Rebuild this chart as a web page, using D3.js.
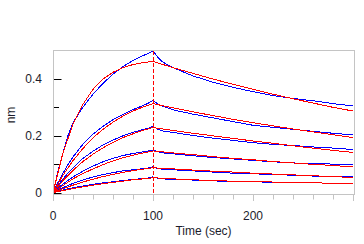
<!DOCTYPE html>
<html>
<head>
<meta charset="utf-8">
<script src="https://cdn.jsdelivr.net/npm/d3@7"></script>
<style>
  body { margin: 0; background: #fff; }
  text { font-family: "Liberation Sans", Arial, sans-serif; font-size: 12px; fill: #1c1c2c; }
</style>
</head>
<body>
<div id="chart"></div>
<script>
var width = 364, height = 244
var margins = {left: 53, top: 50, right: 10, bottom: 50}
var innerW = 301, innerH = 144

// sample times (sec)
var tBlue = [0,5,10,15,20,30,40,50,60,70,80,90,95,100,105,110,120,140,160,180,200,220,240,260,280,300]
var tFit = [0,10,20,30,40,50,60,70,80,90,100,120,140,160,180,200,220,240,260,280,300]

// measured responses (nm), one array per concentration
var blue1 = [0,0.075,0.14,0.20,0.245,0.300,0.345,0.383,0.415,0.442,0.463,0.480,0.488,0.497,0.474,0.457,0.438,0.409,0.387,0.369,0.354,0.340,0.330,0.322,0.312,0.304]
var blue2 = [0,0.035,0.068,0.098,0.125,0.170,0.205,0.232,0.256,0.274,0.291,0.305,0.313,0.324,0.310,0.303,0.290,0.275,0.262,0.249,0.236,0.229,0.222,0.215,0.208,0.202]
var blue3 = [0,0.025,0.048,0.068,0.087,0.120,0.145,0.167,0.184,0.199,0.211,0.221,0.225,0.232,0.222,0.216,0.211,0.200,0.191,0.183,0.175,0.169,0.165,0.160,0.156,0.151]
var blue4 = [0,0.015,0.030,0.043,0.055,0.075,0.093,0.108,0.120,0.130,0.137,0.143,0.146,0.149,0.143,0.139,0.136,0.129,0.123,0.118,0.113,0.108,0.104,0.101,0.100,0.100]
var blue5 = [0,0.009,0.017,0.025,0.032,0.044,0.055,0.063,0.070,0.076,0.080,0.084,0.086,0.091,0.084,0.082,0.080,0.076,0.072,0.068,0.066,0.063,0.061,0.058,0.056,0.055]
var blue6 = [0,0.005,0.009,0.013,0.017,0.023,0.029,0.034,0.038,0.042,0.046,0.049,0.051,0.055,0.050,0.048,0.046,0.044,0.041,0.039,0.038,0.036,0.036,0.034,0.033,0.033]

// fitted curves (nm)
var red1 = [0,0.140,0.239,0.310,0.362,0.398,0.422,0.438,0.449,0.456,0.460,0.438,0.418,0.398,0.380,0.362,0.345,0.329,0.314,0.299,0.286]
var red2 = [0,0.061,0.112,0.155,0.192,0.222,0.247,0.268,0.286,0.300,0.312,0.297,0.283,0.270,0.257,0.245,0.234,0.223,0.213,0.203,0.193]
var red3 = [0,0.042,0.078,0.109,0.135,0.157,0.176,0.193,0.206,0.218,0.228,0.218,0.208,0.199,0.190,0.181,0.173,0.164,0.156,0.148,0.141]
var red4 = [0,0.025,0.048,0.067,0.083,0.098,0.111,0.122,0.131,0.139,0.146,0.139,0.133,0.126,0.120,0.115,0.109,0.104,0.099,0.095,0.090]
var red5 = [0,0.014,0.026,0.037,0.047,0.056,0.064,0.071,0.077,0.082,0.087,0.083,0.079,0.075,0.072,0.068,0.065,0.062,0.059,0.056,0.053]
var red6 = [0,0.007,0.014,0.020,0.026,0.031,0.036,0.040,0.045,0.048,0.052,0.048,0.045,0.042,0.040,0.038,0.037,0.035,0.034,0.033,0.032]

var blueSeries = [blue1, blue2, blue3, blue4, blue5, blue6]
var redSeries = [red1, red2, red3, red4, red5, red6]

var xTicks = [0, 100, 200]
var yTicks = [0, 0.2, 0.4]
var switchTime = 100

var svg = d3.select("#chart").append("svg")
    .attr("width", width)
    .attr("height", height)

var plot = svg.append("g")
    .attr("transform", "translate(" + margins.left + "," + margins.top + ")")

var xScale = d3.scaleLinear().domain([0, 301]).range([0, innerW])
var yScale = d3.scaleLinear().domain([-0.005, 0.5]).range([innerH, 0])

// frame
plot.append("rect")
    .attr("x", 0.5).attr("y", 0.5)
    .attr("width", innerW).attr("height", innerH)
    .attr("fill", "none")
    .attr("stroke", "#c4c4c4")

// x ticks (gray, pointing down), every 20 sec
d3.range(0, 301, 20).forEach(function(t){
    var x = Math.round(xScale(t)) + 0.5
    plot.append("line")
        .attr("x1", x).attr("x2", x)
        .attr("y1", innerH + 0.5).attr("y2", innerH + (t % 100 === 0 ? 7 : 5.5))
        .attr("stroke", "#c4c4c4")
})
xTicks.forEach(function(t){
    plot.append("text")
        .attr("x", xScale(t))
        .attr("y", innerH + 26)
        .attr("text-anchor", "middle")
        .text(t)
})

// y ticks (black, pointing in)
d3.range(0, 0.41, 0.1).forEach(function(v, i){
    var y = Math.round(yScale(v)) + 0.5
    plot.append("line")
        .attr("x1", 1).attr("x2", i % 2 === 0 ? 8.5 : 6)
        .attr("y1", y).attr("y2", y)
        .attr("stroke", "#000")
})
yTicks.forEach(function(v){
    plot.append("text")
        .attr("x", -11)
        .attr("y", yScale(v) + 4.5)
        .attr("text-anchor", "end")
        .text(v)
})

svg.append("text")
    .attr("x", margins.left + innerW / 2)
    .attr("y", 235)
    .attr("text-anchor", "middle")
    .text("Time (sec)")

svg.append("text")
    .attr("transform", "translate(15,115) rotate(-90)")
    .attr("text-anchor", "middle")
    .text("nm")

var clip = plot.append("clipPath").attr("id", "clip")
clip.append("rect").attr("x", 1).attr("y", 1).attr("width", innerW - 1).attr("height", innerH - 1)

var lines = plot.append("g").attr("clip-path", "url(#clip)")

var blueLine = d3.line()
    .x(function(d, i){ return xScale(tBlue[i]) })
    .y(function(d){ return yScale(d) })
var redLine = d3.line()
    .x(function(d, i){ return xScale(tFit[i]) })
    .y(function(d){ return yScale(d) })

blueSeries.forEach(function(s){
    lines.append("path")
        .attr("d", blueLine(s))
        .attr("fill", "none")
        .attr("stroke", "#0000ff")
        .attr("stroke-width", 1)
        .attr("shape-rendering", "crispEdges")
})
redSeries.forEach(function(s){
    lines.append("path")
        .attr("d", redLine(s))
        .attr("fill", "none")
        .attr("stroke", "#ff0000")
        .attr("stroke-width", 1)
        .attr("shape-rendering", "crispEdges")
})

// association / dissociation switch
plot.append("line")
    .attr("x1", Math.round(xScale(switchTime)) + 0.5)
    .attr("x2", Math.round(xScale(switchTime)) + 0.5)
    .attr("y1", 1).attr("y2", innerH)
    .attr("stroke", "#ff0000")
    .attr("stroke-dasharray", "4,2")
    .attr("shape-rendering", "crispEdges")
</script>
</body>
</html>
